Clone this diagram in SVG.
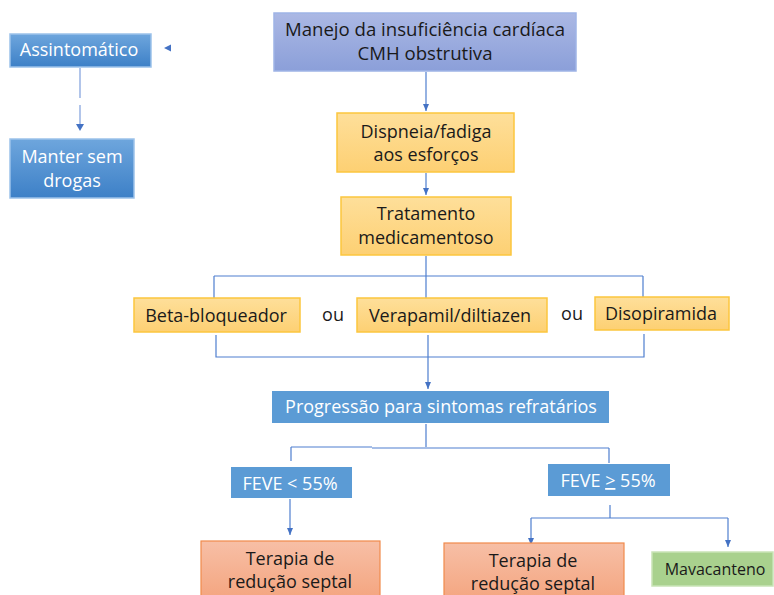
<svg xmlns="http://www.w3.org/2000/svg" width="774" height="595" viewBox="0 0 774 595">
<defs>
<linearGradient id="gPurple" x1="0" y1="0" x2="0" y2="1"><stop offset="0" stop-color="#abb8e4"/><stop offset="1" stop-color="#8b9fd9"/></linearGradient>
<linearGradient id="gYellow" x1="0" y1="0" x2="0" y2="1"><stop offset="0" stop-color="#fedf9a"/><stop offset="1" stop-color="#fdd073"/></linearGradient>
<linearGradient id="gBlue" x1="0" y1="0" x2="0" y2="1"><stop offset="0" stop-color="#6ea6dd"/><stop offset="1" stop-color="#3d80c7"/></linearGradient>
<linearGradient id="gOrange" x1="0" y1="0" x2="0" y2="1"><stop offset="0" stop-color="#f7bfa6"/><stop offset="1" stop-color="#f4a47e"/></linearGradient>
<marker id="arr" markerWidth="8" markerHeight="8" refX="7" refY="4" orient="auto" markerUnits="userSpaceOnUse"><path d="M0,1 L7,4 L0,7 Z" fill="#4472c4"/></marker>
</defs>
<style>
.t{font-family:"Open Sans","Liberation Sans",Arial,sans-serif;font-size:18px;text-anchor:middle;fill:#1a1a1a}
.w{fill:#ffffff}
.c{fill:none;stroke:#4f7fcf;stroke-width:1.2}
.purple{fill:url(#gPurple);stroke:#9fb4e6;stroke-width:1.5}
.yellow{fill:url(#gYellow);stroke:#fcc63e;stroke-width:1.5}
.blueg{fill:url(#gBlue);stroke:#9cc2ea;stroke-width:1.5}
.blue{fill:#5b9bd5}
.orange{fill:url(#gOrange);stroke:#f08a4b;stroke-width:1.2}
.green{fill:#a9d18e;stroke:#c9e3b6;stroke-width:1.5}
</style>
<rect width="774" height="595" fill="#ffffff"/>
<g id="connectors">
<path class="c" d="M426,72 V111" marker-end="url(#arr)"/>
<path class="c" d="M426,173 V195" marker-end="url(#arr)"/>
<path class="c" d="M426,256 V276 M214,276 H643 M214,276 V298 M426,276 V298 M643,276 V297"/>
<path class="c" d="M216,335 V357 H644 V334 M428,335 V389" marker-end="url(#arr)"/>
<path class="c" d="M426,424 V447 M291,447 H372 M372,448 H609 M291,447 V461 M609,448 V463"/>
<path class="c" d="M290,499 V535" marker-end="url(#arr)"/>
<path class="c" d="M610,505 V518 M531,518 H728 M531,518 V545" marker-end="url(#arr)"/>
<path class="c" d="M728,518 V547" marker-end="url(#arr)"/>
<path d="M80,68 V98 M80,105 V124" fill="none" stroke="#7f9fdc" stroke-width="1.2"/>
<path d="M76,124 L84,124 L80,131 Z" fill="#4472c4"/>
<path d="M164,48 L171,44.5 L171,51.5 Z" fill="#4472c4"/>
</g>
<g id="top">
<rect class="purple" x="274" y="13" width="302" height="58"/>
<text class="t" x="425" y="36" style="font-size:18.6px">Manejo da insuficiência cardíaca</text>
<text class="t" x="425" y="60" style="font-size:18.6px">CMH obstrutiva</text>
</g>
<g id="assintomatico">
<rect class="blueg" x="10" y="34" width="141" height="33"/>
<text class="t w" x="79" y="56">Assintomático</text>
</g>
<g id="manter">
<rect class="blueg" x="10" y="139" width="124" height="59"/>
<text class="t w" x="72" y="163">Manter sem</text>
<text class="t w" x="72" y="187">drogas</text>
</g>
<g id="dispneia">
<rect class="yellow" x="337" y="113" width="177" height="59"/>
<text class="t" x="426" y="138">Dispneia/fadiga</text>
<text class="t" x="426" y="161">aos esforços</text>
</g>
<g id="tratamento">
<rect class="yellow" x="341" y="197" width="170" height="58"/>
<text class="t" x="426" y="220">Tratamento</text>
<text class="t" x="426" y="244">medicamentoso</text>
</g>
<g id="beta">
<rect class="yellow" x="134" y="298" width="166" height="34"/>
<text class="t" x="216" y="322">Beta-bloqueador</text>
</g>
<g id="ou1"><text class="t" x="333" y="321">ou</text></g>
<g id="verapamil">
<rect class="yellow" x="357" y="298" width="190" height="34"/>
<text class="t" x="450" y="322">Verapamil/diltiazen</text>
</g>
<g id="ou2"><text class="t" x="572" y="320">ou</text></g>
<g id="disopiramida">
<rect class="yellow" x="595" y="297" width="134" height="33"/>
<text class="t" x="661" y="320">Disopiramida</text>
</g>
<g id="progressao">
<rect class="blue" x="272" y="391" width="337" height="32"/>
<text class="t w" x="441" y="413">Progressão para sintomas refratários</text>
</g>
<g id="feve-menor">
<rect class="blue" x="231" y="467" width="121" height="31"/>
<text class="t w" x="290" y="490">FEVE &lt; 55%</text>
</g>
<g id="feve-maior">
<rect class="blue" x="548" y="464" width="122" height="32"/>
<text class="t w" x="608" y="487">FEVE <tspan style="text-decoration:underline">&gt;</tspan> 55%</text>
</g>
<g id="terapia1">
<rect class="orange" x="201" y="541" width="179" height="60"/>
<text class="t" x="290" y="565">Terapia de</text>
<text class="t" x="290" y="588">redução septal</text>
</g>
<g id="terapia2">
<rect class="orange" x="444" y="543" width="180" height="60"/>
<text class="t" x="533" y="567">Terapia de</text>
<text class="t" x="533" y="590">redução septal</text>
</g>
<g id="mavacanteno">
<rect class="green" x="652" y="552" width="121" height="34"/>
<text class="t" x="715" y="575" style="font-size:16px">Mavacanteno</text>
</g>
</svg>
